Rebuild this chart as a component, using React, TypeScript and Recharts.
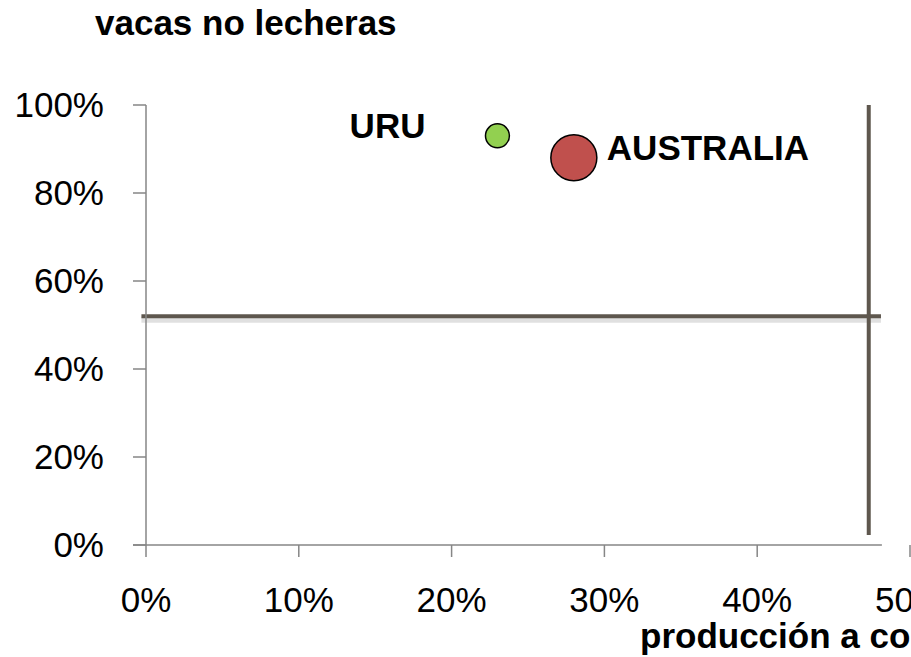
import React from "react"
import { ScatterChart, Scatter, XAxis, YAxis, ZAxis, ReferenceLine } from "recharts"

// bubbles: x = producción a corral, y = vacas no lecheras, z = tamaño relativo
const countries = ["URU", "AUSTRALIA"]
const xValues = [0.23, 0.28]
const yValues = [0.93, 0.88]
const zValues = [1, 3.7]
const colors = ["#92D050", "#C0504D"]

const xTicks = [0, 0.1, 0.2, 0.3, 0.4, 0.5]
const yTicks = [0, 0.2, 0.4, 0.6, 0.8, 1]

// division lines of the quadrants
const hLineY = 0.52
const hLineFrom = -0.003
const hLineTo = 0.481
const vLineX = 0.473
const vLineFrom = 0.023
const vLineTo = 1.0

const FONT = "'Liberation Sans', Arial, sans-serif"
const LINE = "#5E574E"
const AXIS = "#868686"

const pct = (v: number) => `${Math.round(v * 100)}%`

function Bubble(props: any) {
  const { cx, cy, payload, fill } = props
  const r = props.width ? props.width / 2 : Math.sqrt((props.size || 64) / Math.PI)
  const left = payload.name === "URU"
  return (
    <g>
      <circle cx={cx} cy={cy} r={r} fill={fill} stroke="#000" strokeWidth={1.5} />
      <text
        x={left ? cx - 72 : cx + r + 10}
        y={cy + 2}
        textAnchor={left ? "end" : "start"}
        fontFamily={FONT}
        fontWeight="bold"
        fontSize={35}
        fill="#000"
      >
        {payload.name}
      </text>
    </g>
  )
}

export default function App() {
  const series = countries.map((name, i) => ({
    name,
    data: [{ name, x: xValues[i], y: yValues[i], z: zValues[i] }],
    color: colors[i],
  }))

  return (
    <div style={{ position: "fixed", left: 0, top: 0, width: 911, height: 657, overflow: "hidden", background: "#fff" }}>
      <ScatterChart width={1000} height={657} margin={{ top: 105, right: 90, bottom: 0, left: 0 }}>
        <XAxis
          type="number"
          dataKey="x"
          domain={[0, 0.5]}
          ticks={xTicks}
          tickFormatter={pct}
          axisLine={false}
          tickSize={12}
          tickMargin={30}
          tickLine={{ stroke: AXIS, strokeWidth: 1.5 }}
          tick={{ fill: "#000", fontSize: 35, fontFamily: FONT }}
          height={112}
          interval={0}
          label={{
            content: () => (
              <text x={640} y={648} fontFamily={FONT} fontWeight="bold" fontSize={35} fill="#000">
                producción a co
              </text>
            ),
          }}
        />
        <YAxis
          type="number"
          dataKey="y"
          domain={[0, 1]}
          ticks={yTicks}
          tickFormatter={pct}
          width={146}
          tickSize={13}
          tickMargin={29}
          axisLine={{ stroke: AXIS, strokeWidth: 1.5 }}
          tickLine={{ stroke: AXIS, strokeWidth: 1.5 }}
          tick={{ fill: "#000", fontSize: 35, fontFamily: FONT }}
          interval={0}
          label={{
            content: () => (
              <text x={95} y={35} fontFamily={FONT} fontWeight="bold" fontSize={35} fill="#000">
                vacas no lecheras
              </text>
            ),
          }}
        />
        <ZAxis type="number" dataKey="z" domain={[0, 3.7]} range={[0, 1662]} />
        <ReferenceLine
          segment={[{ x: -0.0085, y: 0 }, { x: 0.4816, y: 0 }]}
          stroke={AXIS}
          strokeWidth={1.5}
          ifOverflow="visible"
        />
        <ReferenceLine
          segment={[{ x: hLineFrom, y: hLineY - 0.008 }, { x: hLineTo, y: hLineY - 0.008 }]}
          stroke="#000"
          strokeOpacity={0.12}
          strokeWidth={6}
          ifOverflow="visible"
        />
        <ReferenceLine
          segment={[{ x: hLineFrom, y: hLineY }, { x: hLineTo, y: hLineY }]}
          stroke={LINE}
          strokeWidth={4}
          ifOverflow="visible"
        />
        <ReferenceLine
          segment={[{ x: vLineX, y: vLineFrom }, { x: vLineX, y: vLineTo }]}
          stroke={LINE}
          strokeWidth={4}
          ifOverflow="visible"
        />
        {series.map((s) => (
          <Scatter
            key={s.name}
            name={s.name}
            data={s.data}
            fill={s.color}
            shape={<Bubble />}
            isAnimationActive={false}
          />
        ))}
      </ScatterChart>
    </div>
  )
}
